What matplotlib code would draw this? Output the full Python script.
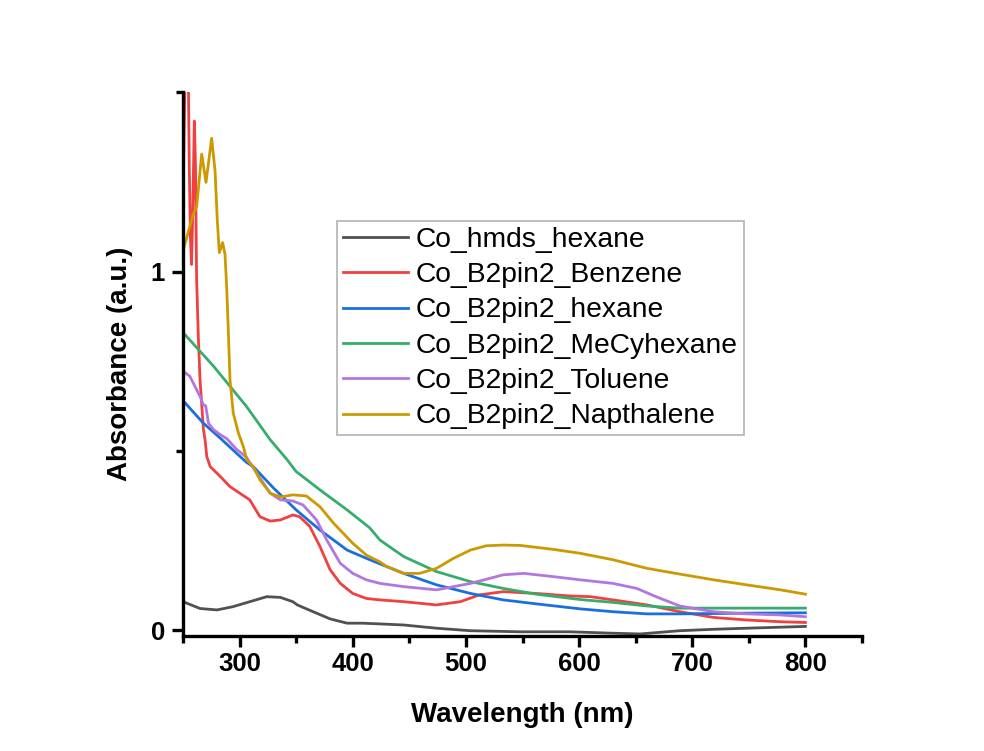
import numpy as np
import matplotlib
matplotlib.use("Agg")
import matplotlib.pyplot as plt
from matplotlib.ticker import MultipleLocator

plt.rcParams['font.family'] = ['Liberation Sans', 'DejaVu Sans']

# UV-vis spectra (wavelength nm, absorbance a.u.)
wl_hmds = [250, 265, 280, 294, 309, 324, 336, 347, 351, 365, 380, 395, 409, 424,
           445, 474, 504, 548, 592, 630, 654, 689, 719, 748, 800]
ab_hmds = [0.079, 0.060, 0.056, 0.065, 0.079, 0.093, 0.091, 0.079, 0.070, 0.051, 0.031,
           0.019, 0.019, 0.017, 0.014, 0.005, -0.002, -0.005, -0.005, -0.009, -0.011,
           -0.002, 0.002, 0.005, 0.010]

wl_benz = [250, 251, 252, 253, 254.5, 255.5, 256.5, 257.5, 258.5, 260, 261, 262, 263.5,
           265, 268, 269.5, 271, 274, 283, 291.5, 300, 309, 318, 327, 336, 347, 353,
           362, 371, 380, 389, 400, 412, 424, 445, 474, 495, 512, 533, 562, 592, 610,
           630, 660, 689, 719, 748, 778, 800]
ab_benz = [1.18, 1.40, 1.60, 1.55, 1.60, 1.30, 1.10, 1.02, 1.15, 1.42, 1.30, 0.98, 0.82,
           0.70, 0.56, 0.53, 0.484, 0.456, 0.428, 0.400, 0.382, 0.363, 0.316, 0.304,
           0.307, 0.321, 0.316, 0.289, 0.233, 0.168, 0.130, 0.102, 0.088, 0.084, 0.079,
           0.070, 0.079, 0.098, 0.107, 0.102, 0.095, 0.093, 0.084, 0.070, 0.051, 0.035,
           0.028, 0.023, 0.021]

wl_hex = [250, 268, 283, 297, 306, 312, 330, 350, 371, 395, 415, 445, 474, 504, 533,
          562, 601, 630, 660, 689, 748, 800]
ab_hex = [0.640, 0.577, 0.535, 0.494, 0.468, 0.456, 0.396, 0.335, 0.279, 0.223, 0.196,
          0.158, 0.126, 0.102, 0.084, 0.073, 0.059, 0.051, 0.045, 0.045, 0.047, 0.048]

wl_mecy = [250, 277, 306, 327, 342, 350, 371, 395, 415, 424, 445, 474, 504, 533, 562,
           601, 630, 660, 689, 748, 800]
ab_mecy = [0.830, 0.736, 0.624, 0.531, 0.475, 0.442, 0.391, 0.335, 0.285, 0.251, 0.205,
           0.163, 0.135, 0.116, 0.100, 0.085, 0.077, 0.067, 0.061, 0.061, 0.061]

wl_tol = [250, 256, 260.5, 265, 268, 270, 272.5, 277, 283, 289, 297, 306, 315, 327, 336,
          347, 356, 368, 377, 389, 400, 412, 424, 445, 474, 504, 533, 551, 577, 601,
          630, 651, 668, 689, 719, 748, 778, 800]
ab_tol = [0.722, 0.708, 0.680, 0.652, 0.628, 0.626, 0.577, 0.559, 0.545, 0.533, 0.505,
          0.482, 0.438, 0.382, 0.363, 0.360, 0.349, 0.307, 0.251, 0.186, 0.158, 0.140,
          0.130, 0.121, 0.112, 0.130, 0.154, 0.158, 0.149, 0.140, 0.130, 0.116, 0.093,
          0.067, 0.051, 0.045, 0.042, 0.037]

wl_nap = [250, 259, 262, 266.5, 270.3, 275.3, 278.3, 280.3, 282.1, 285, 287.1, 288.6,
          290, 291.5, 294.4, 299, 303.3, 306.3, 309, 312, 318, 327, 336, 347, 359,
          371, 383, 400, 412, 424, 430, 445, 459, 474, 489, 504, 518, 533, 548, 577,
          601, 630, 660, 689, 719, 748, 778, 800]
ab_nap = [1.058, 1.160, 1.180, 1.328, 1.249, 1.372, 1.281, 1.142, 1.053, 1.081, 1.048,
          0.955, 0.838, 0.698, 0.605, 0.549, 0.512, 0.475, 0.466, 0.456, 0.419, 0.382,
          0.371, 0.377, 0.374, 0.344, 0.298, 0.242, 0.209, 0.190, 0.177, 0.158, 0.158,
          0.172, 0.200, 0.223, 0.235, 0.237, 0.236, 0.225, 0.214, 0.196, 0.172, 0.156,
          0.140, 0.126, 0.112, 0.100]

series = [
    ("Co_hmds_hexane", wl_hmds, ab_hmds, "#515151"),
    ("Co_B2pin2_Benzene", wl_benz, ab_benz, "#F14040"),
    ("Co_B2pin2_hexane", wl_hex, ab_hex, "#1A6FDF"),
    ("Co_B2pin2_MeCyhexane", wl_mecy, ab_mecy, "#37AD6B"),
    ("Co_B2pin2_Toluene", wl_tol, ab_tol, "#B177DE"),
    ("Co_B2pin2_Napthalene", wl_nap, ab_nap, "#CC9900"),
]

fig = plt.figure(figsize=(9.84, 7.51), dpi=100)
ax = fig.add_axes([0.186, 0.153, 0.690, 0.724])

for name, x, y, c in series:
    ax.plot(x, y, color=c, lw=2, label=name)

ax.set_xlim(250, 850)
ax.set_ylim(-0.017, 1.5)

ax.set_xticks([300, 400, 500, 600, 700, 800])
ax.xaxis.set_minor_locator(MultipleLocator(50))
ax.yaxis.set_major_locator(MultipleLocator(1))
ax.yaxis.set_minor_locator(MultipleLocator(0.5))

for s in ["top", "right"]:
    ax.spines[s].set_visible(False)
for s in ["left", "bottom"]:
    ax.spines[s].set_linewidth(2.4)

ax.tick_params(which="major", direction="out", length=8, width=2.4, labelsize=18.5)
ax.tick_params(axis="x", which="major", pad=3.5)
ax.tick_params(axis="y", which="major", pad=5)
ax.tick_params(which="minor", direction="out", length=5, width=2.4)
for lab in ax.get_xticklabels() + ax.get_yticklabels():
    lab.set_fontweight("bold")

ax.set_xlabel("Wavelength (nm)", fontsize=20, fontweight="bold", labelpad=19)
ax.set_ylabel("Absorbance (a.u.)", fontsize=20, fontweight="bold", labelpad=13)

leg = ax.legend(loc="upper left", bbox_to_anchor=(0.227, 0.763), borderaxespad=0,
                fontsize=20.3, frameon=True, fancybox=False, edgecolor="#a0a0a0",
                handlelength=2.3, handletextpad=0.3, labelspacing=0.33, borderpad=0.2)
leg.get_frame().set_linewidth(1.2)

fig.savefig("out.png", dpi=100)
